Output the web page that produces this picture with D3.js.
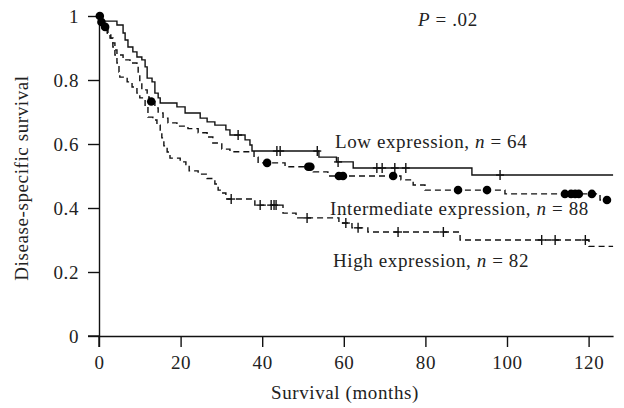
<!DOCTYPE html>
<html>
<head>
<meta charset="utf-8">
<script src="https://cdn.jsdelivr.net/npm/d3@7"></script>
<style>
  html, body { margin: 0; padding: 0; background: #fff; }
  svg { display: block; }
  text { font-family: "Liberation Serif", "Times New Roman", serif; fill: #222; }
</style>
</head>
<body>
<svg id="chart" width="624" height="408"></svg>
<script>
// ---- Data ----
const xTickValues = [0, 20, 40, 60, 80, 100, 120];
const xTickLabels = ["0", "20", "40", "60", "80", "100", "120"];
const yTickValues = [0, 0.2, 0.4, 0.6, 0.8, 1];
const yTickLabels = ["0", "0.2", "0.4", "0.6", "0.8", "1"];
const xMax = 126;

// Kaplan–Meier steps: [time (months), survival]
const lowSteps = [
  [0, 1], [0.2, 0.984], [4.4, 0.972], [5.9, 0.947], [6.4, 0.925], [7.1, 0.903],
  [8.3, 0.888], [9.3, 0.872], [10.5, 0.863], [11.3, 0.841], [11.8, 0.806],
  [13.0, 0.794], [13.7, 0.759], [14.5, 0.744], [15.0, 0.728], [19.1, 0.716],
  [21.1, 0.697], [24.8, 0.681], [26.5, 0.669], [28.4, 0.659], [31.1, 0.644],
  [32.1, 0.628], [35.8, 0.613], [37.0, 0.597], [37.5, 0.578], [53.9, 0.559],
  [58.2, 0.544], [62.3, 0.525], [91.4, 0.503], [126, 0.503]
];
const lowCensored = [34.1, 43.6, 44.4, 53.5, 58.6, 68.1, 69.4, 72.5, 75.2, 98.3];

const intSteps = [
  [0, 1], [0.5, 0.981], [1.0, 0.966], [2.2, 0.947], [2.9, 0.931], [3.4, 0.916],
  [3.9, 0.894], [4.4, 0.878], [5.9, 0.863], [7.6, 0.853], [9.3, 0.847],
  [9.6, 0.816], [10.0, 0.794], [10.5, 0.769], [11.8, 0.747], [12.3, 0.733],
  [13.7, 0.713], [14.5, 0.697], [15.7, 0.681], [16.9, 0.666], [19.1, 0.656],
  [21.8, 0.648], [24.3, 0.635], [26.5, 0.622], [27.9, 0.603], [30.1, 0.584],
  [32.1, 0.576], [38.0, 0.559], [39.0, 0.541], [45.6, 0.529], [52.5, 0.513],
  [56.1, 0.5], [74.0, 0.488], [77.0, 0.472], [79.9, 0.456], [99.5, 0.444],
  [122.8, 0.425], [126, 0.425]
];
const intCensored = [0.2, 0.6, 1.5, 12.8, 41.2, 51.3, 51.8, 58.8, 59.8, 72.1, 88.0, 95.1,
  114.2, 115.7, 116.7, 117.6, 120.8, 124.5];

const highSteps = [
  [0, 1], [0.5, 0.988], [1.2, 0.966], [2.0, 0.947], [2.7, 0.931], [3.4, 0.903],
  [3.9, 0.878], [4.4, 0.853], [4.9, 0.825], [5.1, 0.809], [6.9, 0.794],
  [8.1, 0.778], [9.3, 0.759], [10.0, 0.744], [11.3, 0.716], [12.0, 0.684],
  [13.2, 0.675], [14.2, 0.659], [15.0, 0.638], [15.4, 0.619], [15.9, 0.594],
  [16.7, 0.575], [17.4, 0.556], [19.9, 0.544], [21.3, 0.536], [22.1, 0.516],
  [24.3, 0.506], [26.5, 0.492], [28.4, 0.475], [29.2, 0.456], [29.9, 0.447],
  [31.1, 0.428], [38.2, 0.409], [45.1, 0.384], [48.3, 0.369], [58.8, 0.353],
  [62.0, 0.338], [65.9, 0.325], [88.5, 0.300], [120.1, 0.280], [126, 0.280]
];
const highCensored = [32.4, 39.5, 42.2, 42.9, 43.4, 51.0, 60.5, 63.5, 73.3, 84.4,
  108.5, 111.8, 119.2];

const groupLabels = [
  { name: "Low expression, ", n: "64", x: 335, y: 148 },
  { name: "Intermediate expression, ", n: "88", x: 330, y: 215 },
  { name: "High expression, ", n: "82", x: 333, y: 267 }
];

// ---- Layout ----
const svg = d3.select("#chart");
const x = d3.scaleLinear().domain([0, xMax]).range([99, 99 + xMax * 4.08]);
const y = d3.scaleLinear().domain([0, 1]).range([336, 16]);
const ink = "#111";
const fontSize = "19px";
const spacing = "0.6px";

// axis extensions (axes cross beyond origin)
svg.append("line").attr("x1", x(0) - 11).attr("x2", x(0)).attr("y1", y(0)).attr("y2", y(0))
  .attr("stroke", ink).attr("stroke-width", 1.4);
svg.append("line").attr("x1", x(0)).attr("x2", x(0)).attr("y1", y(0)).attr("y2", y(0) + 11)
  .attr("stroke", ink).attr("stroke-width", 1.4);

const xAxis = svg.append("g").attr("transform", `translate(0,${y(0)})`)
  .call(d3.axisBottom(x).tickValues(xTickValues).tickFormat((d, i) => xTickLabels[i])
    .tickSize(11).tickSizeOuter(0).tickPadding(9));
const yAxis = svg.append("g").attr("transform", `translate(${x(0)},0)`)
  .call(d3.axisLeft(y).tickValues(yTickValues).tickFormat((d, i) => yTickLabels[i])
    .tickSize(11).tickSizeOuter(0).tickPadding(9));

[xAxis, yAxis].forEach(g => {
  g.select(".domain").attr("stroke", ink).attr("stroke-width", 1.4);
  g.selectAll(".tick line").attr("stroke", ink).attr("stroke-width", 1.4);
  g.selectAll(".tick text").style("font-family", '"Liberation Serif", serif')
    .style("font-size", fontSize).style("letter-spacing", spacing).attr("fill", "#222");
});

// axis titles
svg.append("text").attr("x", 345).attr("y", 399).attr("text-anchor", "middle")
  .style("font-size", fontSize).style("letter-spacing", spacing).text("Survival (months)");
svg.append("text").attr("transform", "translate(28,178) rotate(-90)").attr("text-anchor", "middle")
  .style("font-size", fontSize).style("letter-spacing", spacing).text("Disease-specific survival");

// ---- Curves ----
const line = d3.line().x(d => x(d[0])).y(d => y(d[1])).curve(d3.curveStepAfter);
function survAt(steps, t) {
  let s = steps[0][1];
  for (const p of steps) { if (p[0] <= t) s = p[1]; else break; }
  return s;
}

svg.append("path").datum(lowSteps).attr("d", line).attr("fill", "none")
  .attr("stroke", ink).attr("stroke-width", 1.4);
svg.append("path").datum(intSteps).attr("d", line).attr("fill", "none")
  .attr("stroke", ink).attr("stroke-width", 1.4).attr("stroke-dasharray", "6,4");
svg.append("path").datum(highSteps).attr("d", line).attr("fill", "none")
  .attr("stroke", ink).attr("stroke-width", 1.4).attr("stroke-dasharray", "6,4");

function plusMarks(times, steps) {
  const g = svg.append("g").attr("stroke", ink).attr("stroke-width", 1.4);
  times.forEach(t => {
    const cx = x(t), cy = y(survAt(steps, t));
    g.append("line").attr("x1", cx).attr("x2", cx).attr("y1", cy - 5).attr("y2", cy + 5);
    g.append("line").attr("x1", cx - 4).attr("x2", cx + 4).attr("y1", cy).attr("y2", cy);
  });
}
plusMarks(lowCensored, lowSteps);
plusMarks(highCensored, highSteps);

svg.append("g").selectAll("circle").data(intCensored).join("circle")
  .attr("cx", d => x(d)).attr("cy", d => y(survAt(intSteps, d)))
  .attr("r", 4.3).attr("fill", "#000");

// ---- Annotations ----
groupLabels.forEach(l => {
  const t = svg.append("text").attr("x", l.x).attr("y", l.y)
    .style("font-size", fontSize).style("letter-spacing", spacing);
  t.append("tspan").text(l.name);
  t.append("tspan").style("font-style", "italic").text("n");
  t.append("tspan").text(" = " + l.n);
});
const p = svg.append("text").attr("x", 418).attr("y", 26)
  .style("font-size", fontSize).style("letter-spacing", spacing);
p.append("tspan").style("font-style", "italic").text("P");
p.append("tspan").text(" = .02");
</script>
</body>
</html>
